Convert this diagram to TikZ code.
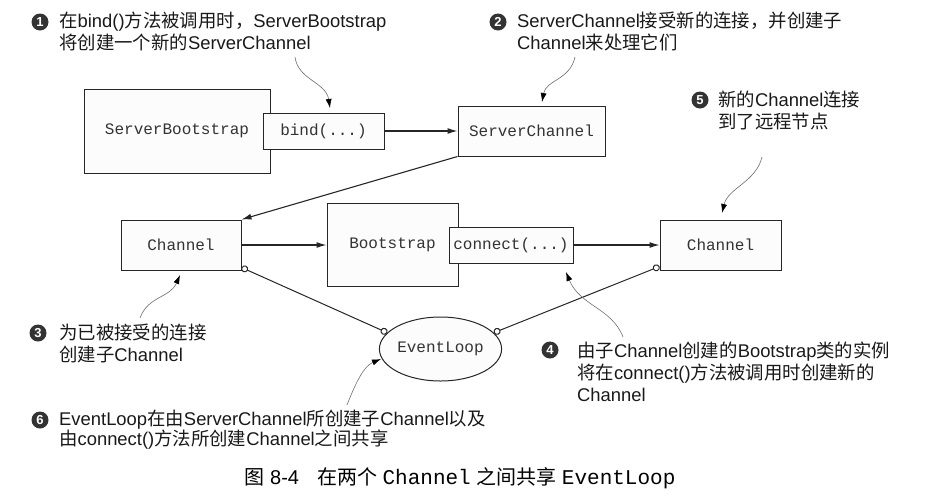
\documentclass[tikz,border=0pt]{standalone}
\usepackage{fontspec}
\usepackage{tikz}
\usetikzlibrary{shapes,arrows.meta,positioning,calc,shapes.geometric}

\setmainfont{Liberation Sans}
\setmonofont{Liberation Mono}
\newfontfamily\cjkfont{Noto Sans CJK SC}
\newcommand{\zh}[1]{{\cjkfont #1}}
\newcommand{\code}[1]{{\fontsize{21}{24}\selectfont\ttfamily #1}}

\definecolor{edgegray}{HTML}{262626}
\definecolor{boxfill}{HTML}{FCFCFC}
\definecolor{tailgray}{HTML}{6E6E6E}

\begin{document}
\begin{tikzpicture}[x=1pt, y=-1pt, >={Latex[length=10pt,width=6pt]}]
    \tikzstyle{block} = [rectangle, draw=edgegray, fill=boxfill, line width=1pt, text=black!80, font=\fontsize{16}{18}\selectfont\ttfamily, inner sep=0pt]
    \tikzstyle{line} = [draw, ->, line width=1.1pt, edgegray]
    \tikzstyle{share} = [draw, {Circle[open,length=7pt,width=7pt]}-{Circle[open,length=7pt,width=7pt]}, line width=1pt, edgegray]
    \tikzstyle{hint} = [draw, -{Latex[length=9pt,width=6pt,color=black]}, line width=0.6pt, tailgray]
    \tikzstyle{note} = [anchor=base west, align=left, inner sep=0pt, text=black!90, font=\fontsize{18.4}{22}\selectfont]
    \tikzstyle{badge} = [circle, fill=black!80, text=white, inner sep=0pt, minimum size=17pt, font=\fontsize{13}{13}\selectfont\bfseries]

    \useasboundingbox (0,0) rectangle (931,496);

    % top row
    \node [block, minimum width=186pt, minimum height=84pt] (sboot) at (177,131) {ServerBootstrap};
    \node [block, minimum width=121pt, minimum height=36pt, right=-8pt of sboot] (bind) {bind(...)};
    \node [block, minimum width=147pt, minimum height=50pt, right=73pt of bind] (schan) {ServerChannel};

    % middle row
    \node [block, minimum width=120pt, minimum height=50pt] (chan1) at (181,245) {Channel};
    \node [block, minimum width=131pt, minimum height=83pt, right=85pt of chan1] (boot) {Bootstrap};
    \node [block, minimum width=124pt, minimum height=36pt, right=-10pt of boot] (conn) {connect(...)};
    \node [block, minimum width=121pt, minimum height=50pt, right=86pt of conn] (chan2) {Channel};

    \node [block, ellipse, minimum width=107pt, minimum height=64pt] (loop) at (440.5,349) {EventLoop};

    \draw [line] (bind) -- (schan);
    \draw [line] (schan.south west) -- (chan1.north east);
    \draw [line] (chan1) -- (boot);
    \draw [line] (conn) -- (chan2);
    \draw [share] ([yshift=3pt]chan1.south east) -- (loop.163);
    \draw [share] (loop.17) -- ([yshift=4pt]chan2.south west);

    % notes (base = last line)
    \node [badge] (b1) at (40,22) {1};
    \node [note] (note1) at (59,49.5) {\zh{在}bind()\zh{方法被调用时，}ServerBootstrap\\\zh{将创建一个新的}ServerChannel};
    \node [badge] (b2) at (498,22) {2};
    \node [note] (note2) at (517,49.5) {ServerChannel\zh{接受新的连接，并创建子}\\Channel\zh{来处理它们}};
    \node [badge] (b5) at (700,100) {5};
    \node [note] (note5) at (718,128.5) {\zh{新的}Channel\zh{连接}\\\zh{到了远程节点}};
    \node [badge] (b3) at (38,333) {3};
    \node [note] (note3) at (59,361.5) {\zh{为已被接受的连接}\\\zh{创建子}Channel};
    \node [badge] (b4) at (550,350) {4};
    \node [note] (note4) at (577,401.5) {\zh{由子}Channel\zh{创建的}Bootstrap\zh{类的实例}\\\zh{将在}connect()\zh{方法被调用时创建新的}\\Channel};
    \node [badge] (b6) at (40,420) {6};
    \node [note, font=\fontsize{18.4}{20.5}\selectfont] (note6) at (59,445.5) {EventLoop\zh{在由}ServerChannel\zh{所创建子}Channel\zh{以及}\\\zh{由}connect()\zh{方法所创建}Channel\zh{之间共享}};

    % callouts
    \coordinate (t1) at (295,57);   \coordinate (h1) at (330,108);
    \coordinate (t2) at (575,57);   \coordinate (h2) at (542,102);
    \coordinate (t5) at (762,157);  \coordinate (h5) at (722,213);
    \coordinate (t3) at (140,318);  \coordinate (h3) at (180,275);
    \coordinate (t4) at (623,337);  \coordinate (h4) at (566,272);
    \coordinate (t6) at (347,405);  \coordinate (h6) at (381,359);
    \draw [hint] (t1) .. controls (298,80) and (326,82) .. (h1);
    \draw [hint] (t2) .. controls (570,80) and (546,80) .. (h2);
    \draw [hint] (t5) .. controls (756,182) and (728,188) .. (h5);
    \draw [hint] (t3) .. controls (148,296) and (170,298) .. (h3);
    \draw [hint] (t4) .. controls (612,308) and (580,306) .. (h4);
    \draw [hint] (t6) .. controls (356,382) and (364,366) .. (h6);

    \node [anchor=base, inner sep=0pt, font=\fontsize{20}{24}\selectfont] (caption) at (460,484) {\zh{图} 8-4\hspace{18pt}\zh{在两个} \code{Channel} \zh{之间共享} \code{EventLoop}};
\end{tikzpicture}
\end{document}
